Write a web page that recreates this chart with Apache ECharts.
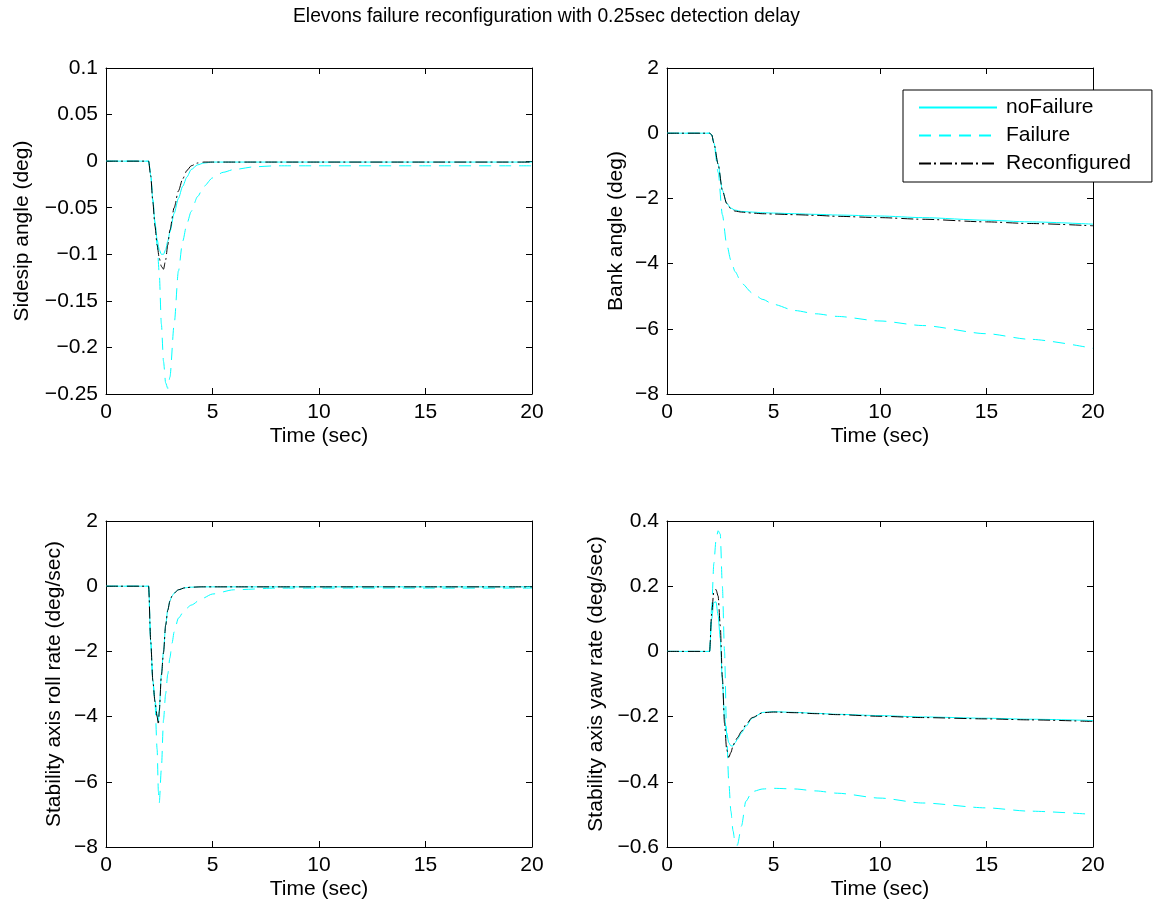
<!DOCTYPE html>
<html><head><meta charset="utf-8">
<script src="https://cdn.jsdelivr.net/npm/echarts@6/dist/echarts.min.js"></script>
<style>html,body{margin:0;padding:0;background:#fff}#c{width:1159px;height:909px}</style>
</head><body><div id="c"></div>
<script>
const chartTitle = 'Elevons failure reconfiguration with 0.25sec detection delay';
const seriesNames = ['noFailure', 'Failure', 'Reconfigured'];
const xLabel = 'Time (sec)';
const yLabels = ['Sidesip angle (deg)', 'Bank angle (deg)', 'Stability axis roll rate (deg/sec)', 'Stability axis yaw rate (deg/sec)'];

// Sideslip angle
const tSideslip = [0, 2.0, 2.1, 2.2, 2.3, 2.4, 2.5, 2.6, 2.7, 2.8, 2.9, 3.0, 3.2, 3.4, 3.6, 3.8, 4.0, 4.3, 4.6, 5.0, 5.5, 6, 7, 8, 10, 15, 20];
const sideslipNoFailure = [0, 0, -0.015, -0.042, -0.066, -0.084, -0.095, -0.100, -0.100, -0.095, -0.086, -0.076, -0.056, -0.040, -0.027, -0.017, -0.009, -0.004, -0.002, -0.001, -0.001, -0.001, -0.001, -0.001, -0.001, -0.001, -0.001];
const sideslipFailure = [0, 0, -0.015, -0.042, -0.066, -0.090, -0.120, -0.175, -0.215, -0.238, -0.244, -0.232, -0.175, -0.118, -0.086, -0.067, -0.054, -0.038, -0.027, -0.018, -0.012, -0.009, -0.006, -0.005, -0.005, -0.005, -0.005];
const sideslipReconf = [0, 0, -0.016, -0.044, -0.070, -0.090, -0.104, -0.113, -0.116, -0.106, -0.090, -0.074, -0.050, -0.032, -0.019, -0.010, -0.005, -0.002, -0.001, -0.001, -0.001, -0.001, -0.001, -0.001, -0.001, -0.001, -0.001];

// Bank angle
const tBank = [0, 2.0, 2.1, 2.2, 2.4, 2.6, 2.8, 3.0, 3.2, 3.5, 4, 4.5, 5, 6, 7, 8, 10, 12, 15, 17, 20];
const bankNoFailure = [0, 0, -0.05, -0.3, -0.95, -1.75, -2.15, -2.3, -2.36, -2.40, -2.42, -2.44, -2.45, -2.47, -2.49, -2.51, -2.54, -2.59, -2.67, -2.72, -2.79];
const bankFailure = [0, 0, -0.05, -0.3, -1.2, -2.5, -3.4, -3.9, -4.25, -4.6, -4.9, -5.1, -5.25, -5.44, -5.54, -5.62, -5.76, -5.9, -6.15, -6.32, -6.6];
const bankReconf = [0, 0, -0.05, -0.3, -0.95, -1.75, -2.15, -2.32, -2.39, -2.42, -2.45, -2.47, -2.48, -2.50, -2.52, -2.55, -2.59, -2.64, -2.72, -2.77, -2.84];

// Roll rate
const tRoll = [0, 2.0, 2.1, 2.2, 2.3, 2.4, 2.46, 2.5, 2.6, 2.7, 2.8, 2.9, 3.0, 3.1, 3.2, 3.4, 3.7, 4.0, 4.5, 5, 6, 8, 10, 15, 20];
const rollNoFailure = [0, 0, -1.7, -2.9, -3.5, -3.95, -4.15, -3.8, -2.7, -2.0, -1.2, -0.72, -0.45, -0.3, -0.21, -0.11, -0.05, -0.03, -0.02, -0.02, -0.02, -0.02, -0.02, -0.02, -0.02];
const rollFailure = [0, 0, -1.7, -2.9, -3.6, -5.0, -6.3, -6.65, -5.6, -4.1, -3.3, -2.7, -2.2, -1.75, -1.4, -0.98, -0.72, -0.58, -0.38, -0.24, -0.11, -0.06, -0.06, -0.06, -0.06];
const rollReconf = [0, 0, -1.7, -2.9, -3.55, -4.0, -4.24, -3.85, -2.75, -2.04, -1.2, -0.74, -0.46, -0.3, -0.21, -0.11, -0.05, -0.03, -0.02, -0.02, -0.02, -0.02, -0.02, -0.02, -0.02];

// Yaw rate
const tYaw = [0, 2.0, 2.1, 2.2, 2.3, 2.4, 2.5, 2.6, 2.7, 2.8, 2.9, 3.0, 3.1, 3.2, 3.3, 3.5, 3.7, 4.0, 4.5, 5, 6, 7, 8, 10, 12, 15, 17, 20];
const yawNoFailure = [0, 0, 0.10, 0.15, 0.152, 0.11, 0.04, -0.09, -0.20, -0.25, -0.28, -0.29, -0.29, -0.28, -0.27, -0.25, -0.23, -0.205, -0.187, -0.185, -0.187, -0.19, -0.193, -0.197, -0.201, -0.205, -0.208, -0.212];
const yawFailure = [0, 0, 0.14, 0.27, 0.34, 0.37, 0.36, 0.20, 0.0, -0.25, -0.40, -0.49, -0.55, -0.59, -0.595, -0.535, -0.46, -0.43, -0.422, -0.42, -0.422, -0.428, -0.435, -0.45, -0.465, -0.48, -0.49, -0.50];
const yawReconf = [0, 0, 0.12, 0.185, 0.19, 0.17, 0.08, -0.08, -0.22, -0.30, -0.325, -0.31, -0.29, -0.275, -0.265, -0.245, -0.225, -0.203, -0.188, -0.186, -0.188, -0.191, -0.194, -0.199, -0.203, -0.207, -0.21, -0.215];

const yRanges = [[-0.25, 0.1, 0.05], [-8, 2, 2], [-8, 2, 2], [-0.6, 0.4, 0.2]];
const xRange = [0, 20, 5];

const FONT = "'Liberation Sans', Arial, sans-serif";
const panels = [
  {t: tSideslip, d: [sideslipNoFailure, sideslipFailure, sideslipReconf]},
  {t: tBank, d: [bankNoFailure, bankFailure, bankReconf]},
  {t: tRoll, d: [rollNoFailure, rollFailure, rollReconf]},
  {t: tYaw, d: [yawNoFailure, yawFailure, yawReconf]}
];
const grids = [
  {left: 106, top: 68, width: 426, height: 326},
  {left: 667, top: 68, width: 426, height: 326},
  {left: 106, top: 521, width: 426, height: 326},
  {left: 667, top: 521, width: 426, height: 326}
];
const yNameGaps = [73, 40, 41, 60];
const styles = [
  {color: '#00FFFF', type: 'solid'},
  {color: '#00FFFF', type: [12, 8]},
  {color: '#000000', type: [12, 3, 2, 4]}
];
function fmt(v) {
  const r = Math.round(v * 1000) / 1000;
  return String(r).replace('-', '\u2212');
}
const xAxes = [], yAxes = [], series = [];
grids.forEach((g, i) => {
  const tick = {show: true, inside: true, length: 6, lineStyle: {color: '#000'}};
  xAxes.push({type: 'value', gridIndex: i, min: xRange[0], max: xRange[1], interval: xRange[2],
    name: xLabel, nameLocation: 'middle', nameGap: 32,
    nameTextStyle: {color: '#000', fontSize: 21, fontFamily: FONT},
    axisLine: {show: true, onZero: false, lineStyle: {color: '#000', width: 1}},
    axisTick: tick, splitLine: {show: false},
    axisLabel: {color: '#000', fontSize: 21, fontFamily: FONT, margin: 8, formatter: fmt}});
  xAxes.push({type: 'value', gridIndex: i, position: 'top', min: xRange[0], max: xRange[1], interval: xRange[2],
    axisLine: {show: true, onZero: false, lineStyle: {color: '#000', width: 1}},
    axisTick: tick, axisLabel: {show: false}, splitLine: {show: false}});
  const yr = yRanges[i];
  yAxes.push({type: 'value', gridIndex: i, min: yr[0], max: yr[1], interval: yr[2],
    name: yLabels[i], nameLocation: 'middle', nameGap: yNameGaps[i],
    nameTextStyle: {color: '#000', fontSize: 21, fontFamily: FONT},
    axisLine: {show: true, onZero: false, lineStyle: {color: '#000', width: 1}},
    axisTick: tick, splitLine: {show: false},
    axisLabel: {color: '#000', fontSize: 21, fontFamily: FONT, margin: 8, formatter: fmt}});
  yAxes.push({type: 'value', gridIndex: i, position: 'right', min: yr[0], max: yr[1], interval: yr[2],
    axisLine: {show: true, onZero: false, lineStyle: {color: '#000', width: 1}},
    axisTick: tick, axisLabel: {show: false}, splitLine: {show: false}});
  const p = panels[i];
  p.d.forEach((vals, k) => {
    series.push({
      type: 'line', name: seriesNames[k], xAxisIndex: 2 * i, yAxisIndex: 2 * i,
      data: p.t.map((t, j) => [t, vals[j]]),
      showSymbol: false, symbol: 'none', smooth: 0.25, smoothMonotone: 'x',
      lineStyle: {color: styles[k].color, type: styles[k].type, width: 1},
      itemStyle: {color: styles[k].color},
      animation: false, z: 2 + k
    });
  });
});

const chart = echarts.init(document.getElementById('c'), null, {renderer: 'canvas'});
chart.setOption({
  animation: false,
  backgroundColor: '#fff',
  title: {text: chartTitle, left: 293, top: 7, padding: 0,
    textStyle: {color: '#000', fontSize: 19.3, fontWeight: 'normal', fontFamily: FONT}},
  legend: {
    data: seriesNames, orient: 'vertical', left: 903, top: 90,
    itemWidth: 78, itemHeight: 14, itemGap: 7,
    padding: [7, 21, 8, 15],
    backgroundColor: '#fff', borderColor: '#000', borderWidth: 1, borderRadius: 0,
    itemStyle: {opacity: 0, borderWidth: 0},
    textStyle: {color: '#000', fontSize: 21, fontFamily: FONT, lineHeight: 20, padding: [0, 0, 0, 4]},
    inactiveColor: '#ccc'
  },
  grid: grids.map(g => Object.assign({show: false, containLabel: false}, g)),
  xAxis: xAxes,
  yAxis: yAxes,
  series: series
});
</script></body></html>
